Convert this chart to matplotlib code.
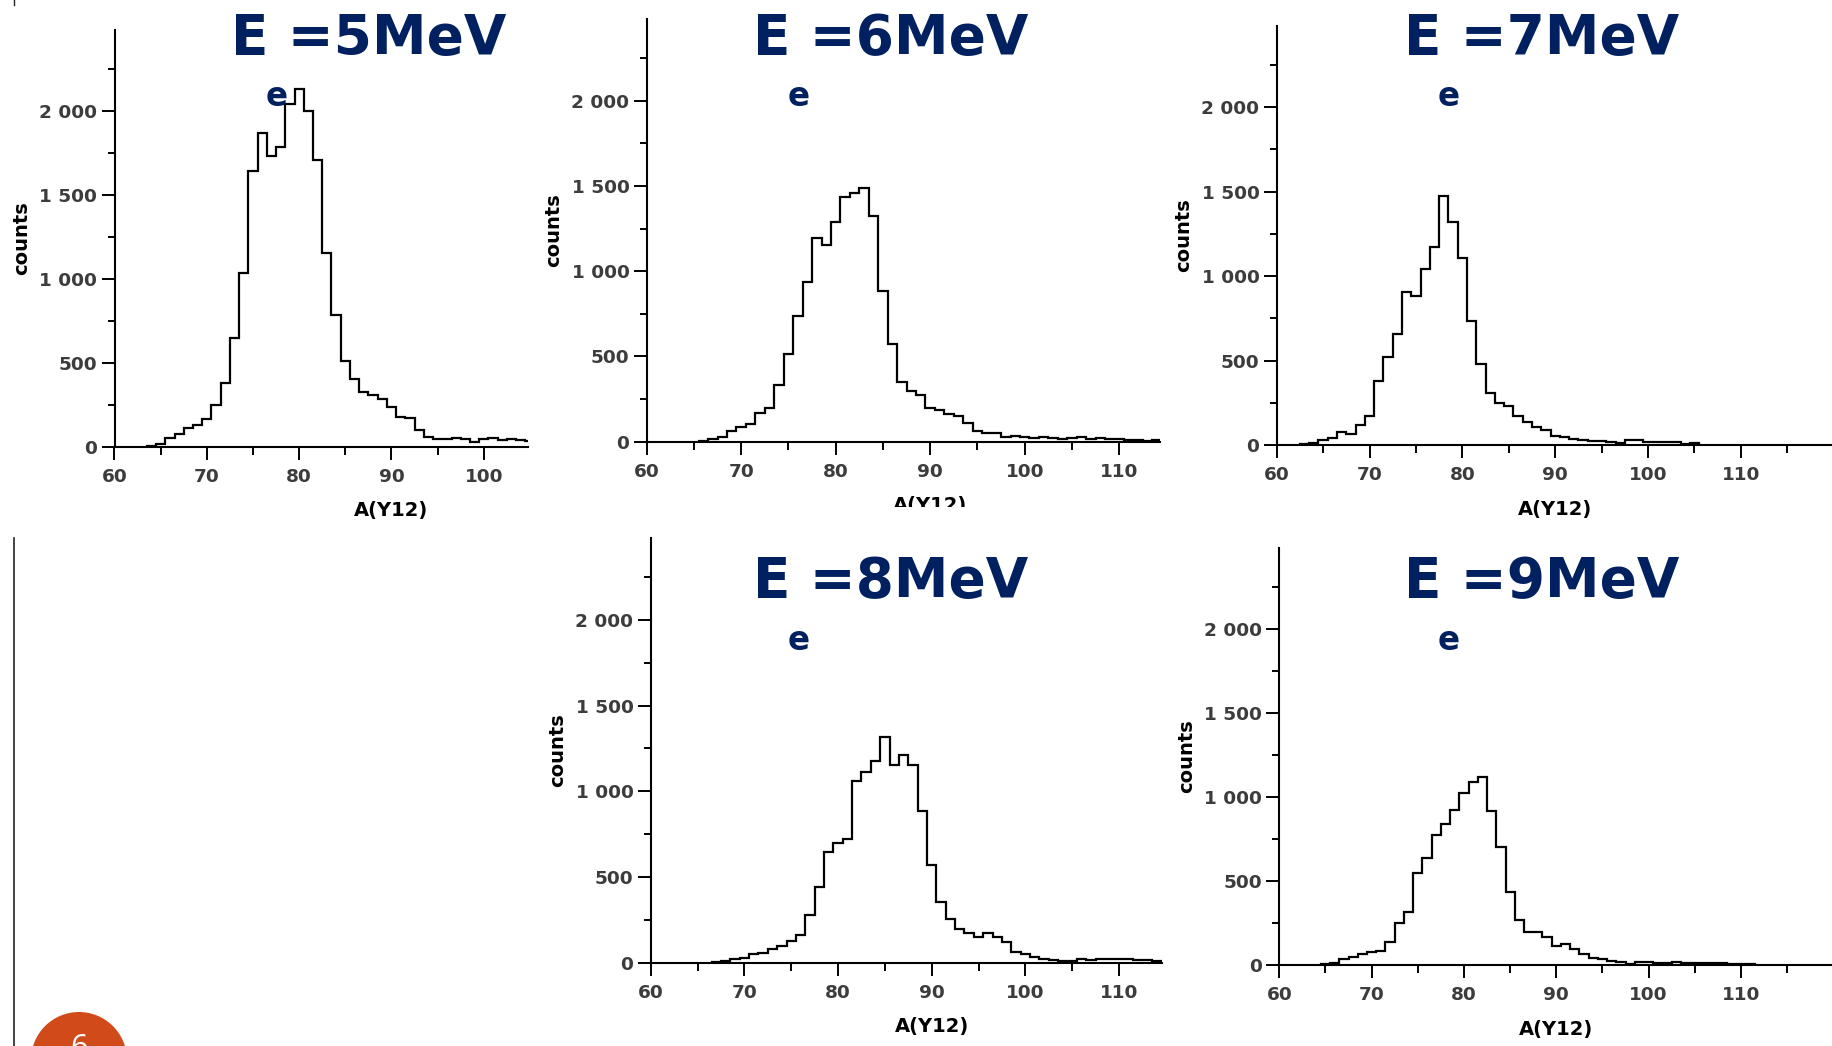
import numpy as np
import matplotlib
matplotlib.use("Agg")
import matplotlib.pyplot as plt
from matplotlib.ticker import MultipleLocator, FuncFormatter
from matplotlib.patches import Ellipse
from matplotlib.lines import Line2D
from matplotlib.transforms import Bbox, TransformedBbox

# beam energies (MeV) and A(Y12) spectra, 1-unit bins starting at first_edge
energies = [5, 6, 7, 8, 9]
first_edges = [63.5, 65.5, 62.5, 66.5, 64.5]

counts_5 = [6, 16, 54, 75, 113, 129, 165, 246, 377, 649, 1031, 1640, 1867, 1728,
            1783, 2041, 2129, 1996, 1704, 1156, 784, 512, 403, 324, 308, 284, 238,
            179, 173, 99, 60, 44, 44, 50, 44, 30, 46, 54, 40, 46, 40, 34]
counts_6 = [6, 14, 29, 63, 88, 102, 166, 199, 330, 512, 739, 936, 1194, 1151, 1290,
            1435, 1456, 1489, 1323, 883, 573, 352, 299, 272, 199, 186, 160, 151, 111,
            65, 53, 53, 29, 35, 29, 23, 29, 20, 14, 20, 27, 14, 21, 14, 14, 10, 8, 4,
            10, 8]
counts_7 = [6, 10, 30, 43, 75, 65, 116, 172, 381, 523, 657, 908, 884, 1042, 1174,
            1472, 1318, 1109, 736, 477, 306, 247, 231, 172, 134, 109, 89, 55, 45, 36,
            30, 22, 22, 20, 12, 30, 30, 16, 16, 16, 16, 6, 12]
counts_8 = [4, 8, 19, 27, 49, 56, 78, 99, 124, 161, 278, 443, 644, 696, 721, 1060,
            1112, 1178, 1318, 1151, 1211, 1151, 887, 570, 356, 253, 198, 175, 152,
            175, 152, 119, 64, 51, 35, 23, 16, 10, 12, 21, 16, 23, 23, 19, 23, 16, 16,
            12, 10]
counts_9 = [6, 10, 36, 46, 63, 75, 83, 135, 248, 313, 545, 638, 773, 839, 922, 1021,
            1090, 1120, 916, 704, 434, 268, 194, 194, 169, 115, 125, 93, 63, 44, 34,
            26, 16, 6, 20, 20, 10, 10, 20, 10, 14, 14, 14, 10, 4, 6, 6]
all_counts = [counts_5, counts_6, counts_7, counts_8, counts_9]

X_MIN, Y_MAX = 60, 2480
W, H = 1832, 1046

# panel placement in pixels: y-axis x, x-axis y, px per unit (x, y), visible x end
panels = [
    dict(x0=114.5, y0=446.6, xu=9.233, yu=0.1679, xmax=104.8, title=(231, 54), sub=(266, 106)),
    dict(x0=646.7, y0=441.7, xu=9.45, yu=0.1705, xmax=114.3, title=(753, 54), sub=(788, 106)),
    dict(x0=1276.7, y0=445.0, xu=9.283, yu=0.1689, xmax=119.8, title=(1404, 54), sub=(1438, 106)),
    dict(x0=650.7, y0=962.7, xu=9.367, yu=0.1714, xmax=114.6, title=(753, 597), sub=(788, 650)),
    dict(x0=1279.3, y0=965.0, xu=9.233, yu=0.1681, xmax=119.9, title=(1404, 597), sub=(1438, 650)),
]

NAVY = "#002060"
TICK_GREY = "#3c3c3c"

fig = plt.figure(figsize=(W / 100, H / 100), dpi=100)
fig.patch.set_facecolor("white")


def thousands(v, pos):
    return f"{int(round(v)):,}".replace(",", " ")


for p, counts, start, energy in zip(panels, all_counts, first_edges, energies):
    w = (p["xmax"] - X_MIN) * p["xu"]
    h = Y_MAX * p["yu"]
    ax = fig.add_axes([p["x0"] / W, (H - p["y0"]) / H, w / W, h / H])
    ax.patch.set_alpha(0)

    edges = start + np.arange(len(counts) + 1)
    ax.stairs(counts, edges, baseline=0, color="black", lw=1.6)

    ax.set_xlim(X_MIN, p["xmax"])
    ax.set_ylim(0, Y_MAX)
    for side in ("top", "right"):
        ax.spines[side].set_visible(False)
    for side in ("left", "bottom"):
        ax.spines[side].set_linewidth(1.5)

    ax.xaxis.set_major_locator(MultipleLocator(10))
    ax.xaxis.set_minor_locator(MultipleLocator(5))
    ax.yaxis.set_major_locator(MultipleLocator(500))
    ax.yaxis.set_minor_locator(MultipleLocator(250))
    ax.yaxis.set_major_formatter(FuncFormatter(thousands))
    ax.tick_params(which="major", length=9.4, width=1.4, direction="out",
                   labelsize=13.3, labelcolor=TICK_GREY)
    ax.tick_params(which="minor", length=5.4, width=1.4, direction="out")
    ax.tick_params(axis="x", pad=6)
    ax.tick_params(axis="y", pad=3)
    for lab in ax.get_xticklabels() + ax.get_yticklabels():
        lab.set_fontweight("bold")

    ax.set_xlabel("A(Y12)", fontsize=14, fontweight="bold", va="center")
    ax.set_ylabel("counts", fontsize=14, fontweight="bold", va="center")
    ax.xaxis.set_label_coords((90 - X_MIN) / (p["xmax"] - X_MIN), -64 / h)
    ax.yaxis.set_label_coords(-93 / w, 0.5)

    if energy == 6:
        # the lower part of this axis label is cut off
        lbl = ax.xaxis.label
        lbl.set_clip_on(True)
        lbl.set_clip_box(TransformedBbox(Bbox([[0, (H - 507) / H], [1, 1]]), fig.transFigure))

    tx, ty = p["title"]
    fig.text(tx / W, (H - ty) / H, f"E ={energy}MeV", fontsize=39.5,
             fontweight="bold", color=NAVY, ha="left", va="baseline",
             family="DejaVu Sans")
    sx, sy = p["sub"]
    fig.text(sx / W, (H - sy) / H, "e", fontsize=23.5, fontweight="bold",
             color=NAVY, ha="left", va="baseline", family="DejaVu Sans")

# slide furniture: left rule, small top mark, page-number badge
fig.add_artist(Line2D([13.5 / W] * 2, [0, (H - 538) / H], transform=fig.transFigure,
                      color="#222222", lw=1.2))
fig.add_artist(Line2D([13.8 / W] * 2, [(H - 5) / H, 1], transform=fig.transFigure,
                      color="#222222", lw=1.0))
fig.add_artist(Ellipse((79 / W, (H - 1060) / H), 96 / W, 96 / H,
                       transform=fig.transFigure, color="#d14a1a", lw=0))
fig.text(79 / W, (H - 1033) / H, "6", fontsize=22, color="white", ha="center",
         va="top", family="Open Sans")

fig.savefig("out.png", dpi=100, facecolor="white")
